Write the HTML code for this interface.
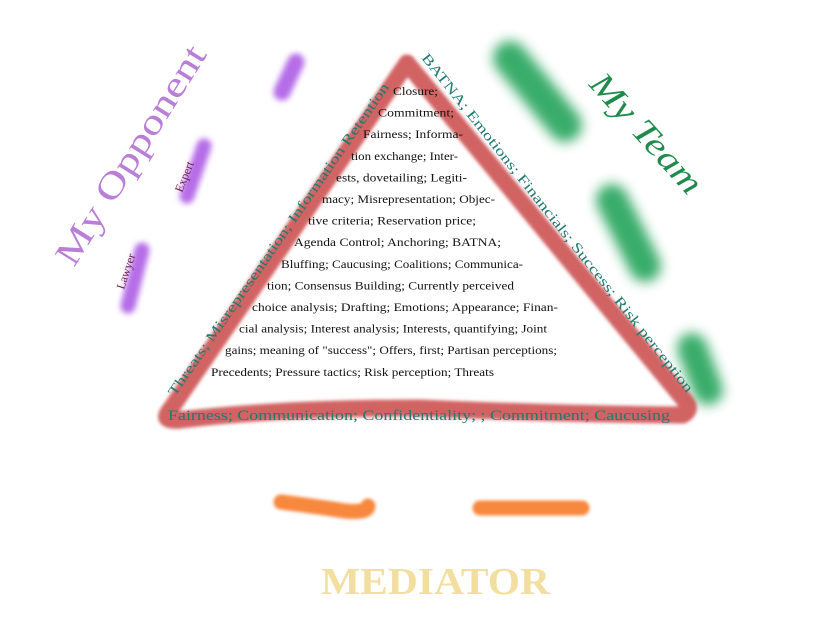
<!DOCTYPE html>
<html><head><meta charset="utf-8"><style>
html,body{margin:0;padding:0;background:#fff;}
svg{display:block;}
</style></head><body>
<svg width="825" height="630" viewBox="0 0 825 630" xmlns="http://www.w3.org/2000/svg" font-family="'Liberation Serif', serif">
<defs>
<filter id="b1" filterUnits="userSpaceOnUse" x="0" y="0" width="825" height="630"><feGaussianBlur stdDeviation="1.5"/></filter>
<filter id="b2" filterUnits="userSpaceOnUse" x="0" y="0" width="825" height="630"><feGaussianBlur stdDeviation="6"/></filter>
<filter id="b3" filterUnits="userSpaceOnUse" x="0" y="0" width="825" height="630"><feGaussianBlur stdDeviation="3"/></filter>
</defs>
<rect width="825" height="630" fill="#fff"/>

<g stroke="#2fa862" stroke-linecap="round" fill="none" filter="url(#b2)" opacity="0.95">
<path d="M510 58 L565 125" stroke-width="34"/>
<path d="M612 200 L645 266" stroke-width="32"/>
<path d="M692 348 L708 390" stroke-width="30"/>
</g>
<g stroke="#b66de8" stroke-linecap="round" fill="none" filter="url(#b3)">
<path d="M296 62 L282 92" stroke-width="17"/>
<path d="M204 146 L187 196" stroke-width="15"/>
<path d="M142 250 L128 306" stroke-width="15"/>
</g>
<g stroke="#f7883e" stroke-linecap="round" fill="none" filter="url(#b1)">
<path d="M281 502 Q320 507 345 511 Q368 513 368 506" stroke-width="15"/>
<path d="M480 508 L582 508" stroke-width="15"/>
</g>

<path d="M407 63 L170 410 Q160 422 180 420 Q280 408 420 408 Q560 414 683 415 Q692 410 686 402 Z" fill="none" stroke="#c94848" stroke-width="17" stroke-linejoin="round" stroke-opacity="0.85" filter="url(#b1)"/>

<g fill="#1f7a70" font-size="14">
<text transform="translate(175,397) rotate(-55.3)" textLength="377" lengthAdjust="spacingAndGlyphs">Threats; Misrepresentation; Information Retention</text>
<text transform="translate(421,58) rotate(51.6)" textLength="428" lengthAdjust="spacingAndGlyphs">BATNA; Emotions; Financials; Success; Risk perception</text>
<text x="168" y="420" font-size="15" textLength="502" lengthAdjust="spacingAndGlyphs">Fairness; Communication; Confidentiality; ; Commitment; Caucusing</text>
</g>

<g fill="#111" font-size="12">
<text x="393" y="95" textLength="45" lengthAdjust="spacingAndGlyphs">Closure;</text>
<text x="378" y="116.6" textLength="76" lengthAdjust="spacingAndGlyphs">Commitment;</text>
<text x="363" y="138.2" textLength="100" lengthAdjust="spacingAndGlyphs">Fairness; Informa-</text>
<text x="351" y="159.8" textLength="107" lengthAdjust="spacingAndGlyphs">tion exchange; Inter-</text>
<text x="336" y="181.4" textLength="131" lengthAdjust="spacingAndGlyphs">ests, dovetailing;  Legiti-</text>
<text x="322" y="203" textLength="173" lengthAdjust="spacingAndGlyphs">macy; Misrepresentation; Objec-</text>
<text x="308" y="224.6" textLength="168" lengthAdjust="spacingAndGlyphs">tive criteria;  Reservation price;</text>
<text x="294" y="246.2" textLength="207" lengthAdjust="spacingAndGlyphs">Agenda Control; Anchoring; BATNA;</text>
<text x="281" y="267.8" textLength="242" lengthAdjust="spacingAndGlyphs">Bluffing; Caucusing; Coalitions; Communica-</text>
<text x="267" y="289.4" textLength="247" lengthAdjust="spacingAndGlyphs">tion; Consensus Building; Currently perceived</text>
<text x="252" y="311" textLength="306" lengthAdjust="spacingAndGlyphs">choice analysis; Drafting; Emotions; Appearance; Finan-</text>
<text x="239" y="332.6" textLength="308" lengthAdjust="spacingAndGlyphs">cial analysis; Interest analysis; Interests, quantifying; Joint</text>
<text x="225" y="354.2" textLength="332" lengthAdjust="spacingAndGlyphs">gains; meaning of "success"; Offers, first; Partisan perceptions;</text>
<text x="211" y="375.8" textLength="283" lengthAdjust="spacingAndGlyphs">Precedents; Pressure tactics; Risk perception; Threats</text>
</g>

<text transform="translate(74,268) rotate(-58)" font-size="36" fill="#b87ed8" textLength="252" lengthAdjust="spacingAndGlyphs">My Opponent</text>
<text transform="translate(588,85) rotate(48)" font-size="34" fill="#1f8a4c" font-style="italic" textLength="150" lengthAdjust="spacingAndGlyphs">My Team</text>
<text transform="translate(182,193) rotate(-68)" font-size="12" fill="#6a1a4a">Expert</text>
<text transform="translate(124,290) rotate(-72)" font-size="12" fill="#6a1a4a">Lawyer</text>
<text x="321" y="594" font-size="38" font-weight="bold" fill="#f2dfa0" textLength="229" lengthAdjust="spacingAndGlyphs">MEDIATOR</text>
</svg>
</body></html>
